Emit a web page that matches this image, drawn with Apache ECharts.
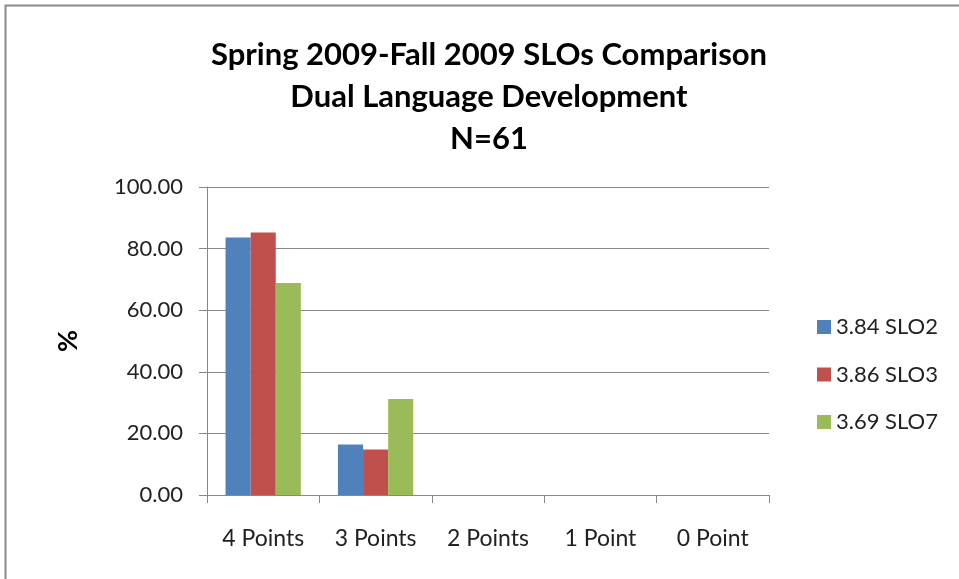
<!DOCTYPE html>
<html><head><meta charset="utf-8">
<script src="https://cdn.jsdelivr.net/npm/echarts@6/dist/echarts.min.js"></script>
<style>html,body{margin:0;padding:0;background:#fff}#c{width:959px;height:579px}</style>
</head><body><div id="c"></div>
<script>
const titleLines = ['Spring 2009-Fall 2009 SLOs Comparison', 'Dual Language Development', 'N=61'];
const categories = ['4 Points', '3 Points', '2 Points', '1 Point', '0 Point'];
const seriesNames = ['3.84 SLO2', '3.86 SLO3', '3.69 SLO7'];
const slo2 = [83.61, 16.39, 0, 0, 0];
const slo3 = [85.25, 14.75, 0, 0, 0];
const slo7 = [68.85, 31.15, 0, 0, 0];
const colors = ['#4F81BD', '#C0504D', '#9BBB59'];
const font = 'Lato, "Open Sans", sans-serif';

const chart = echarts.init(document.getElementById('c'));
const data = [slo2, slo3, slo7];
chart.setOption({
  animation: false,
  graphic: [{type: 'rect', shape: {x: 5.5, y: 5.5, width: 1000, height: 1000}, style: {fill: 'none', stroke: '#8a8a8a', lineWidth: 2}}],
  title: {
    text: titleLines.join('\n'), left: 484, top: 29, textAlign: 'center',
    textStyle: {fontFamily: font, fontSize: 31, fontWeight: 'bold', color: '#000', lineHeight: 42}
  },
  legend: {
    orient: 'vertical', left: 812, top: 311, itemGap: 25.5, itemWidth: 14, itemHeight: 14,
    icon: 'rect',
    textStyle: {fontFamily: font, fontSize: 22, color: '#222'},
    data: seriesNames
  },
  grid: {left: 207, right: 190, top: 187, bottom: 84, containLabel: false},
  xAxis: {
    type: 'category', data: categories,
    axisLine: {lineStyle: {color: '#888', width: 1}},
    axisTick: {show: true, length: 8, lineStyle: {color: '#888'}},
    axisLabel: {fontFamily: font, fontSize: 23, color: '#222', margin: 32}
  },
  yAxis: {
    type: 'value', min: 0, max: 100, interval: 20,
    name: '%', nameLocation: 'middle', nameGap: 125, nameRotate: 90,
    nameTextStyle: {fontFamily: font, fontSize: 27, fontWeight: 'bold', color: '#000'},
    axisLine: {show: true, lineStyle: {color: '#888'}},
    axisTick: {show: true, length: 8, lineStyle: {color: '#888'}},
    splitLine: {lineStyle: {color: '#888', width: 1}},
    axisLabel: {fontFamily: font, fontSize: 22, color: '#222', margin: 24, formatter: v => v.toFixed(2)}
  },
  series: seriesNames.map((n, i) => ({
    name: n, type: 'bar', data: data[i], barGap: '0%', barCategoryGap: '33%',
    itemStyle: {color: colors[i]}
  }))
});
</script></body></html>
